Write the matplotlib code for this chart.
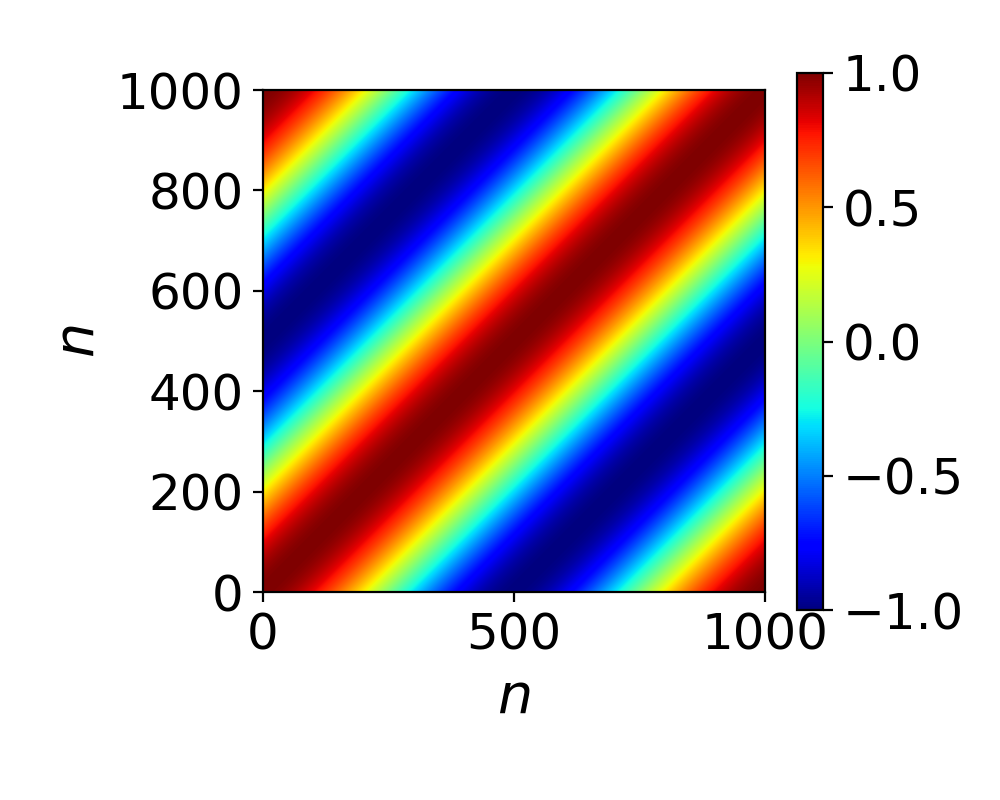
import numpy as np
import matplotlib.pyplot as plt

# grid of sample indices and period of the cosine kernel
N = 1000
PERIOD = 1000
x_ticks = [0, 500, 1000]
y_ticks = [0, 200, 400, 600, 800, 1000]
cbar_ticks = [-1.0, -0.5, 0.0, 0.5, 1.0]

n = np.arange(N + 1)
K = np.cos(2 * np.pi * (n[None, :] - n[:, None]) / PERIOD)

plt.rcParams['font.size'] = 18

fig = plt.figure(figsize=(5, 4), dpi=200)
ax = fig.add_axes([0.263, 0.26, 0.502, 0.6275])
cax = fig.add_axes([0.797, 0.2375, 0.026, 0.67125])

im = ax.imshow(K, cmap='jet', origin='lower', extent=[0, N, 0, N],
               vmin=-1, vmax=1, aspect='auto')
ax.set_xticks(x_ticks)
ax.set_yticks(y_ticks)
ax.set_xlabel('$n$', fontsize=20)
ax.set_ylabel('$n$', fontsize=20)

cb = fig.colorbar(im, cax=cax)
cb.set_ticks(cbar_ticks)

fig.savefig('out.png', dpi=200)
